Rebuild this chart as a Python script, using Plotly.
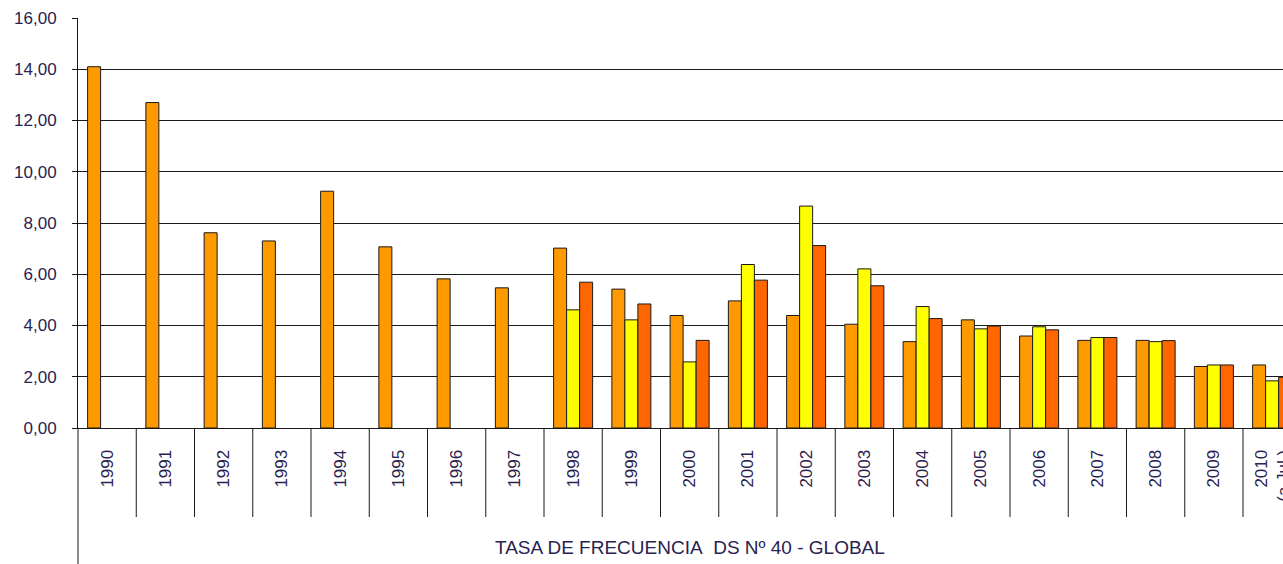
import plotly.graph_objects as go

years = ["1990", "1991", "1992", "1993", "1994", "1995", "1996", "1997", "1998", "1999",
         "2000", "2001", "2002", "2003", "2004", "2005", "2006", "2007", "2008", "2009",
         "2010<br>(a Jul.)"]
serie1 = [14.10, 12.70, 7.62, 7.30, 9.24, 7.07, 5.82, 5.47, 7.02, 5.42,
          4.39, 4.96, 4.39, 4.05, 3.37, 4.22, 3.59, 3.42, 3.42, 2.40, 2.46]
serie2 = [None] * 8 + [4.61, 4.22, 2.58, 6.38, 8.66, 6.21, 4.74, 3.87, 3.95, 3.53, 3.37, 2.46, 1.84]
serie3 = [None] * 8 + [5.69, 4.84, 3.42, 5.77, 7.12, 5.55, 4.27, 3.98, 3.83, 3.53, 3.41, 2.46, 1.98]
series_names = ["Serie 1", "Serie 2", "Serie 3"]
series_colors = ["#FF9900", "#FFFF00", "#FF6600"]
title_text = "TASA DE FRECUENCIA\u00a0 DS Nº 40 - GLOBAL"

W, H = 1283, 564
ml, mr, mt, mb = 78, 0, 18, 136
plot_h = H - mt - mb
cat_w = 58.25
n = len(years)
x_hi = -0.5 + (W - ml - mr) / cat_w

FONT = "Liberation Sans, Arial, sans-serif"
TXT = "#2a2250"
LINE = "#1a1a1a"

fig = go.Figure()
for name, vals, col in zip(series_names, [serie1, serie2, serie3], series_colors):
    fig.add_trace(go.Bar(
        x=list(range(n)), y=vals, name=name,
        marker=dict(color=col, line=dict(color=LINE, width=1)),
        cliponaxis=True,
    ))

shapes = []
for i in range(n):
    shapes.append(dict(type="line", xref="x", yref="paper",
                       x0=i + 0.5, x1=i + 0.5, y0=0, y1=-89 / plot_h,
                       line=dict(color=LINE, width=1), layer="above"))
shapes.append(dict(type="line", xref="paper", yref="paper",
                   x0=0, x1=0, y0=0, y1=-mb / plot_h,
                   line=dict(color=LINE, width=1), layer="above"))

fig.update_layout(
    width=W, height=H,
    margin=dict(l=ml, r=mr, t=mt, b=mb, pad=0),
    paper_bgcolor="white", plot_bgcolor="white",
    barmode="group", bargap=0.33, bargroupgap=0,
    showlegend=False,
    separators=",.",
    font=dict(family=FONT, size=17, color=TXT),
    shapes=shapes,
    annotations=[dict(text=title_text, xref="x", yref="paper",
                      x=(n - 1) / 2, y=-(547 - mt - plot_h) / plot_h,
                      yanchor="middle", xanchor="center", showarrow=False,
                      font=dict(family=FONT, size=19, color=TXT))],
)
fig.update_xaxes(
    range=[-0.5, x_hi], tickmode="array", tickvals=list(range(n)), ticktext=years,
    tickangle=-90, ticks="", showgrid=False, zeroline=False,
    showline=True, linecolor=LINE, linewidth=1,
    ticklabelstandoff=14, ticklabeloverflow="allow", automargin=False,
    tickfont=dict(family=FONT, size=17, color=TXT),
)
fig.update_yaxes(
    range=[0, 16], tickmode="array", tickvals=[0, 2, 4, 6, 8, 10, 12, 14, 16],
    tickformat=".2f", ticks="outside", ticklen=5, tickcolor=LINE,
    showgrid=True, gridcolor=LINE, gridwidth=1, zeroline=False,
    showline=True, linecolor=LINE, linewidth=1,
    ticklabelstandoff=12, automargin=False,
    tickfont=dict(family=FONT, size=17, color=TXT),
)

fig.write_html(
    "out.html",
    config={"displayModeBar": False},
    post_script="document.body.style.margin='0px';document.body.style.overflow='hidden';",
)
